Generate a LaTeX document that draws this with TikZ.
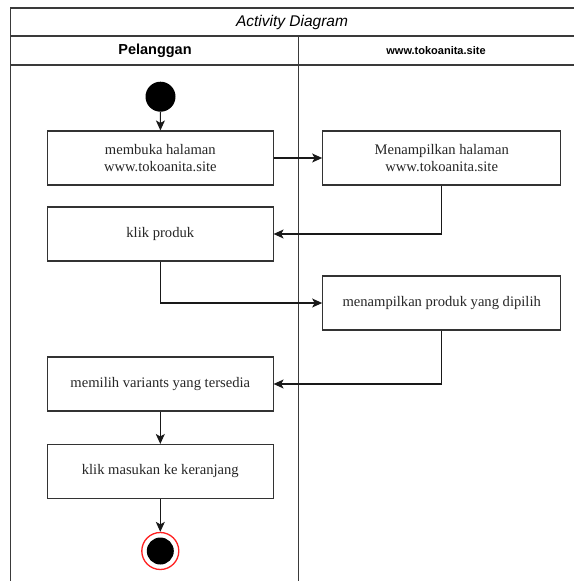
\documentclass[tikz,border=0pt]{standalone}
\usepackage{fontspec}
\setmainfont{Liberation Serif}
\newfontfamily\lanefont{Liberation Sans}
\usetikzlibrary{arrows.meta}

\definecolor{boxline}{HTML}{333333}
\definecolor{laneline}{HTML}{3A3A3A}
\definecolor{endred}{HTML}{FF2020}

\tikzset{
  act/.style={draw=boxline, line width=1.1pt, fill=white, inner sep=0pt,
    minimum height=54pt, align=center, text=black!85,
    font=\fontsize{14.6}{16.8}\selectfont},
  wide/.style={act, minimum width=225.5pt},
  wider/.style={act, minimum width=238pt},
  flow/.style={draw=black!90, line width=1.1pt,
    -{Stealth[length=10pt, width=9pt, inset=2.5pt]}},
  lane/.style={draw=laneline, line width=1.3pt},
}

\begin{document}
\begin{tikzpicture}[x=1pt, y=-1pt]
  \useasboundingbox (0,0) rectangle (574,581);

  % swimlane frame
  \draw[lane] (10.5,581) -- (10.5,8) -- (574,8);
  \draw[lane] (10.5,36) -- (574,36);
  \draw[lane] (10.5,65) -- (574,65);
  \draw[lane] (298.5,36) -- (298.5,581);

  \node (title) at (292,22) {\lanefont\itshape\fontsize{15.5}{18}\selectfont Activity Diagram};
  \node (laneA) at (155,51) {\lanefont\bfseries\fontsize{14.5}{17}\selectfont Pelanggan};
  \node (laneB) at (436,51) {\lanefont\bfseries\fontsize{11}{13}\selectfont www.tokoanita.site};

  % start and end
  \fill (160.5,96.7) circle[radius=15];
  \node (startnode) at (160.5,96.7) [circle, minimum size=30pt, inner sep=0pt] {};

  \node (endnode) at (160.3,551) [circle, draw=endred, line width=1.3pt, fill=white,
    minimum size=37pt, inner sep=0pt] {};
  \fill (endnode.center) circle[radius=13.5];

  % activities
  \node[wide]  (b1) at (160.3,158)   {membuka halaman\\www.tokoanita.site};
  \node[wider] (b2) at (441.7,158)   {Menampilkan halaman\\www.tokoanita.site};
  \node[wide]  (b3) at (160.3,234)   {klik produk};
  \node[wider] (b4) at (441.7,303)   {menampilkan produk yang dipilih};
  \node[wide]  (b5) at (160.3,384)   {memilih variants yang tersedia};
  \node[wide]  (b6) at (160.3,471.5) {klik masukan ke keranjang};

  % flows
  \draw[flow] (startnode) -- (b1);
  \draw[flow] (b1) -- (b2);
  \draw[flow] (b2.south) |- (b3.east);
  \draw[flow] (b3.south) |- (b4.west);
  \draw[flow] (b4.south) |- (b5.east);
  \draw[flow] (b5) -- (b6);
  \draw[flow] (b6) -- (endnode);
\end{tikzpicture}
\end{document}
